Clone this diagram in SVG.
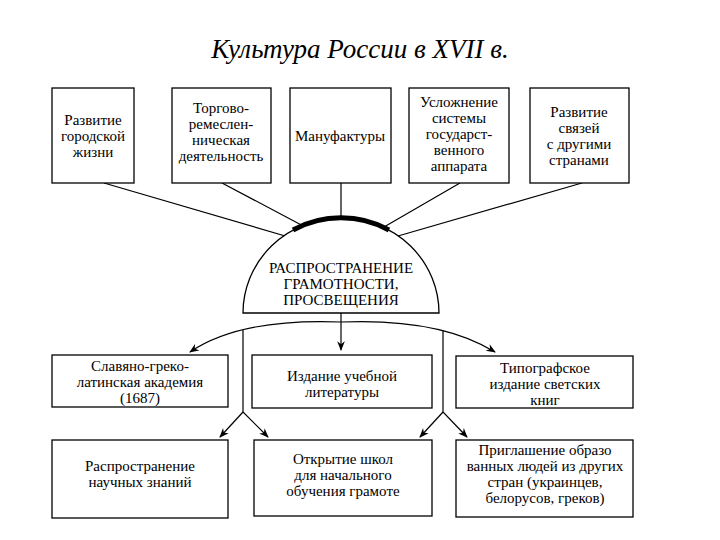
<svg xmlns="http://www.w3.org/2000/svg" width="720" height="540" viewBox="0 0 720 540">
<style>
.b{fill:#fff;stroke:#000;stroke-width:1.3}
.t{font-family:"Liberation Serif","Times New Roman","DejaVu Serif",serif;font-size:15px;text-anchor:middle;fill:#000}
.l{fill:none;stroke:#000;stroke-width:1.2}
</style>
<defs><marker id="a" viewBox="0 0 10 10" refX="9" refY="5" markerWidth="8" markerHeight="8" orient="auto"><path d="M0,1 L10,5 L0,9 L3,5z" fill="#000"/></marker></defs>
<rect width="720" height="540" fill="#fff"/>
<text x="360" y="58" font-family="'Liberation Serif','Times New Roman',serif" font-style="italic" font-size="27" text-anchor="middle">Культура России в XVII в.</text>
<g id="connectors">
<path class="l" d="M104,183 L292,238 M222,183 L307,228 M341,183 L341,219 M460,183 L384,227 M582,183 L398,236"/>
<path class="l" d="M341,313 L341,350" marker-end="url(#a)"/>
<path class="l" d="M341,322 Q240,318 190,352" marker-end="url(#a)"/>
<path class="l" d="M341,322 Q440,318 495,352" marker-end="url(#a)"/>
<path class="l" d="M243,330 L243,412 L268,437" marker-end="url(#a)"/>
<path class="l" d="M243,412 L220,437" marker-end="url(#a)"/>
<path class="l" d="M443,330 L443,412 L467,437" marker-end="url(#a)"/>
<path class="l" d="M443,412 L420,437" marker-end="url(#a)"/>
</g>
<g id="n1"><rect class="b" x="52" y="88" width="82" height="95"/><text class="t"><tspan x="93" y="125">Развитие</tspan><tspan x="93" y="141">городской</tspan><tspan x="93" y="157">жизни</tspan></text></g>
<g id="n2"><rect class="b" x="172" y="88" width="99" height="95"/><text class="t"><tspan x="221" y="113">Торгово-</tspan><tspan x="221" y="129">ремеслен-</tspan><tspan x="221" y="145">ническая</tspan><tspan x="221" y="161">деятельность</tspan></text></g>
<g id="n3"><rect class="b" x="290" y="88" width="101" height="95"/><text class="t"><tspan x="340" y="141">Мануфактуры</tspan></text></g>
<g id="n4"><rect class="b" x="409" y="88" width="100" height="95"/><text class="t"><tspan x="459" y="107">Усложнение</tspan><tspan x="459" y="123">системы</tspan><tspan x="459" y="139">государст-</tspan><tspan x="459" y="155">венного</tspan><tspan x="459" y="171">аппарата</tspan></text></g>
<g id="n5"><rect class="b" x="530" y="88" width="99" height="95"/><text class="t"><tspan x="579" y="117">Развитие</tspan><tspan x="579" y="133">связей</tspan><tspan x="579" y="149">с другими</tspan><tspan x="579" y="165">странами</tspan></text></g>
<g id="dome">
<path d="M243,313 A98,95 0 0 1 439,313 Z" fill="#fff" stroke="#000" stroke-width="1.3"/>
<path d="M293,230 A98,95 0 0 1 389,230" fill="none" stroke="#000" stroke-width="5"/>
<text class="t"><tspan x="341" y="273">РАСПРОСТРАНЕНИЕ</tspan><tspan x="341" y="289">ГРАМОТНОСТИ,</tspan><tspan x="341" y="305">ПРОСВЕЩЕНИЯ</tspan></text>
</g>
<g id="m1"><rect class="b" x="52" y="355" width="176" height="52"/><text class="t"><tspan x="140" y="371">Славяно-греко-</tspan><tspan x="140" y="387">латинская академия</tspan><tspan x="140" y="403">(1687)</tspan></text></g>
<g id="m2"><rect class="b" x="252" y="355" width="180" height="53"/><text class="t"><tspan x="342" y="381">Издание учебной</tspan><tspan x="342" y="397">литературы</tspan></text></g>
<g id="m3"><rect class="b" x="456" y="356" width="177" height="52"/><text class="t"><tspan x="545" y="373">Типографское</tspan><tspan x="545" y="389">издание светских</tspan><tspan x="545" y="405">книг</tspan></text></g>
<g id="b1"><rect class="b" x="52" y="440" width="176" height="78"/><text class="t"><tspan x="140" y="471">Распространение</tspan><tspan x="140" y="487">научных знаний</tspan></text></g>
<g id="b2"><rect class="b" x="254" y="440" width="178" height="76"/><text class="t"><tspan x="343" y="464">Открытие школ</tspan><tspan x="343" y="480">для начального</tspan><tspan x="343" y="496">обучения грамоте</tspan></text></g>
<g id="b3"><rect class="b" x="456" y="440" width="177" height="77"/><text class="t"><tspan x="545" y="455">Приглашение образо</tspan><tspan x="545" y="471">ванных людей из других</tspan><tspan x="545" y="487">стран (украинцев,</tspan><tspan x="545" y="503">белорусов, греков)</tspan></text></g>
</svg>
